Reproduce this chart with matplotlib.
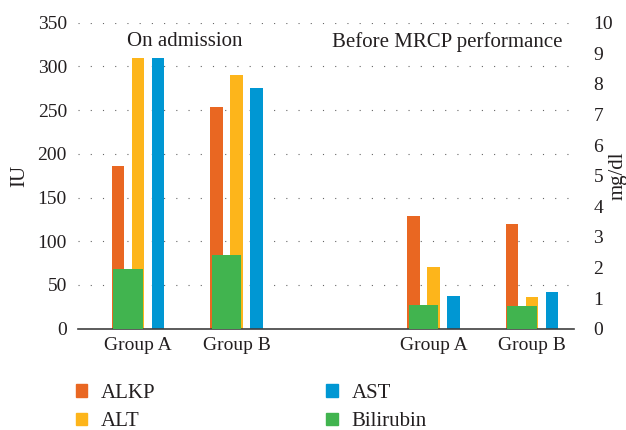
import matplotlib
matplotlib.use("Agg")
import matplotlib.pyplot as plt
from matplotlib.patches import Patch
import numpy as np

plt.rcParams['font.family'] = ['Liberation Serif', 'DejaVu Serif']

groups = ["Group A", "Group B", "Group A", "Group B"]
alkp = [186, 254, 129, 120]
alt = [310, 290, 71, 36]
ast = [310, 275, 37, 42]
bilirubin = [1.95, 2.41, 0.77, 0.74]
panel_titles = ["On admission", "Before MRCP performance"]

c_alkp = "#E96722"
c_alt = "#FDB51B"
c_ast = "#0097D3"
c_bil = "#41B44F"
txt = "#231F20"

fig = plt.figure(figsize=(6.26, 4.30), dpi=100)
ax = fig.add_axes([78/626, 1-328.7/430, (574-78)/626, (328.7-22.7)/430])
ax2 = ax.twinx()

x = np.array([0, 1, 3, 4])
w = 0.122
off = 0.203
ax.bar(x - off, alkp, w, color=c_alkp, zorder=2)
ax.bar(x, alt, w, color=c_alt, zorder=2)
ax.bar(x + off, ast, w, color=c_ast, zorder=2)
ax2.bar(x - off/2, bilirubin, 0.295, color=c_bil, zorder=3)

ax.set_xlim((78-138)/98.5, (574-138)/98.5)
ax.set_ylim(0, 350)
ax2.set_ylim(0, 10)
ax.set_yticks(np.arange(0, 351, 50))
ax2.set_yticks(np.arange(0, 11, 1))
ax.set_xticks(x)
ax.set_xticklabels(groups)

for a in (ax, ax2):
    for s in a.spines.values():
        s.set_visible(False)
ax.spines['bottom'].set_visible(True)
ax.spines['bottom'].set_color("#404040")
ax.spines['bottom'].set_linewidth(1.2)
ax.spines['bottom'].set_zorder(5)

ax.set_axisbelow(True)
ax.yaxis.grid(True, linestyle=(0, (1, 10)), linewidth=0.8, color="#666666")
ax.tick_params(axis='y', length=0, pad=8, labelsize=14, labelcolor=txt)
ax.tick_params(axis='x', length=0, pad=6, labelsize=14, labelcolor=txt)
ax2.tick_params(axis='y', length=0, pad=14, labelsize=14, labelcolor=txt)

ax.set_ylabel("IU", fontsize=15, color=txt, labelpad=6)
ax2.set_ylabel("mg/dl", fontsize=15, color=txt, rotation=90, va='center')
ax2.yaxis.set_label_coords((618 - 78) / 496, 0.5)

fig.text(184.5/626, 1-42/430, panel_titles[0], fontsize=15, color=txt, ha='center', va='center')
fig.text(563/626, 1-42/430, panel_titles[1], fontsize=15, color=txt, ha='right', va='center')

handles = [Patch(color=c_alkp), Patch(color=c_alt), Patch(color=c_ast), Patch(color=c_bil)]
labels = ["ALKP", "ALT", "AST", "Bilirubin"]
fig.legend(handles, labels, ncol=2, loc='upper left', bbox_to_anchor=(76/626, 1-384/430),
           frameon=False, fontsize=15, handlelength=0.55, handleheight=0.55,
           handletextpad=0.65, columnspacing=8.2, labelspacing=0.45, labelcolor=txt,
           borderpad=0, borderaxespad=0)

fig.savefig("out.png", dpi=100)
